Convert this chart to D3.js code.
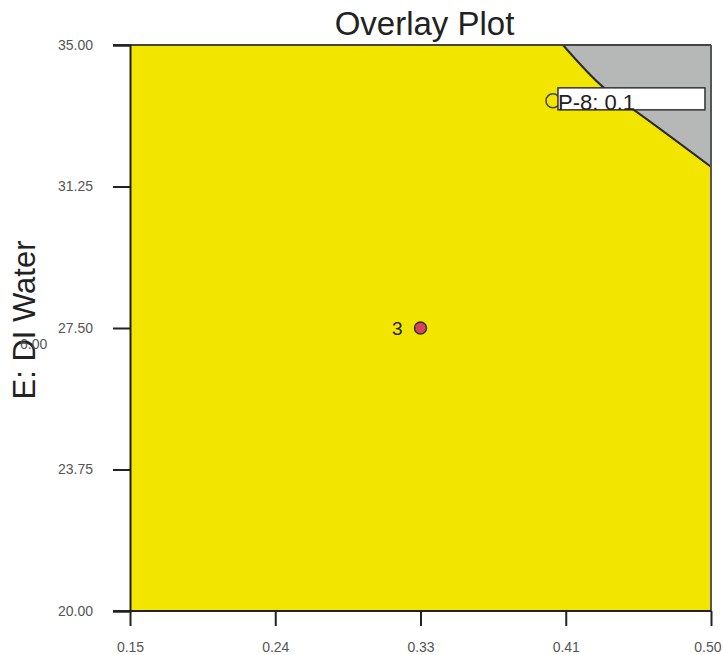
<!DOCTYPE html>
<html>
<head>
<meta charset="utf-8">
<script src="https://cdn.jsdelivr.net/npm/d3@7"></script>
<style>
  body { margin: 0; background: #fff; }
  svg { font-family: "Liberation Sans", Arial, sans-serif; }
</style>
</head>
<body>
<div id="chart"></div>
<script>
// axis ticks (labels as printed on the design-space plot)
var xTicks = [0.15, 0.2375, 0.325, 0.4125, 0.50];
var xTickLabels = ["0.15", "0.24", "0.33", "0.41", "0.50"];
var yTicks = [20, 23.75, 27.5, 31.25, 35];
var yTickLabels = ["20.00", "23.75", "27.50", "31.25", "35.00"];

// boundary of the grey (out of spec) region, top right corner
var boundaryX = [0.4108, 0.4349, 0.4452, 0.4554, 0.50];
var boundaryY = [35.0, 33.89, 33.54, 33.22, 31.77];

// design point and flag
var pointX = [0.325], pointY = [27.5], pointLabel = ["3"];
var flagX = [0.4048], flagY = [33.52], flagText = ["P-8: 0.1"];

var margin = {top: 45, right: 12, bottom: 44, left: 130},
    width  = 723 - margin.left - margin.right,
    height = 655 - margin.top - margin.bottom;

var x = d3.scaleLinear().domain([0.15, 0.5]).range([0, width]);
var y = d3.scaleLinear().domain([20, 35]).range([height, 0]);

var svg = d3.select("#chart").append("svg")
    .attr("width", 723)
    .attr("height", 655)
  .append("g")
    .attr("transform", "translate(" + margin.left + "," + margin.top + ")");

// yellow feasible area
svg.append("rect")
    .attr("width", width)
    .attr("height", height)
    .attr("fill", "#f2e500");

// grey region
var grey = boundaryX.map(function(d, i) { return [x(d), y(boundaryY[i])]; });
grey.push([x(0.5), y(35)]);
svg.append("path")
    .attr("d", d3.line()(grey) + "Z")
    .attr("fill", "#b6b8b8");

svg.append("path")
    .attr("d", d3.line().curve(d3.curveMonotoneX)(boundaryX.map(function(d, i) { return [x(d), y(boundaryY[i])]; })))
    .attr("fill", "none")
    .attr("stroke", "#2a2a2a")
    .attr("stroke-width", 2);

// frame
svg.append("line").attr("x1", -17).attr("x2", width).attr("y1", 0).attr("y2", 0)
    .attr("stroke", "#444").attr("stroke-width", 2);
svg.append("line").attr("x1", width).attr("x2", width).attr("y1", 0).attr("y2", height)
    .attr("stroke", "#555").attr("stroke-width", 2);

// axes
var xAxis = svg.append("g")
    .attr("transform", "translate(0," + height + ")")
    .call(d3.axisBottom(x).tickValues(xTicks).tickSize(15).tickPadding(16)
      .tickFormat(function(d, i) { return xTickLabels[i]; }));
var yAxis = svg.append("g")
    .call(d3.axisLeft(y).tickValues(yTicks).tickSize(17).tickPadding(20)
      .tickFormat(function(d, i) { return yTickLabels[i]; }));

[xAxis, yAxis].forEach(function(a) {
  a.select(".domain").attr("stroke", "#222").attr("stroke-width", 2);
  a.selectAll(".tick line").attr("stroke", "#222").attr("stroke-width", 2);
  a.selectAll(".tick text").attr("fill", "#555").style("font-size", "14px");
});
xAxis.select(".domain").attr("d", "M-17,0H" + width);
// last label sits against the right edge
xAxis.selectAll(".tick text").filter(function(d) { return d === 0.5; })
    .attr("text-anchor", "end").attr("x", 10);

// design point
svg.selectAll(".pt")
    .data(pointX)
  .enter().append("circle")
    .attr("cx", function(d) { return x(d); })
    .attr("cy", function(d, i) { return y(pointY[i]); })
    .attr("r", 6)
    .attr("fill", "#d8445a")
    .attr("stroke", "#333")
    .attr("stroke-width", 1.5);
svg.selectAll(".ptlabel")
    .data(pointLabel)
  .enter().append("text")
    .attr("x", function(d, i) { return x(pointX[i]) - 18; })
    .attr("y", function(d, i) { return y(pointY[i]) + 7; })
    .attr("text-anchor", "end")
    .style("font-size", "19px")
    .attr("fill", "#222")
    .text(function(d) { return d; });

// flag
var fx = x(flagX[0]), fy = y(flagY[0]);
svg.append("circle")
    .attr("cx", fx).attr("cy", fy).attr("r", 7)
    .attr("fill", "none").attr("stroke", "#444").attr("stroke-width", 1.5);
svg.append("rect")
    .attr("x", fx + 5).attr("y", fy - 13)
    .attr("width", 147).attr("height", 22)
    .attr("fill", "#fff").attr("stroke", "#333").attr("stroke-width", 1.5);
svg.append("text")
    .attr("x", fx + 5).attr("y", fy + 9)
    .style("font-size", "22px")
    .attr("fill", "#222")
    .text(flagText[0]);

// title
svg.append("text")
    .attr("x", width / 2 + 4)
    .attr("y", -10)
    .attr("text-anchor", "middle")
    .style("font-size", "33px")
    .attr("fill", "#222")
    .text("Overlay Plot");

// y axis title, with the stray label that overlaps it
d3.select("svg").append("text")
    .attr("transform", "translate(35,320) rotate(-90)")
    .attr("text-anchor", "middle")
    .style("font-size", "31px")
    .attr("fill", "#222")
    .text("E: DI Water");
d3.select("svg").append("text")
    .attr("x", 20).attr("y", 349)
    .style("font-size", "14px")
    .attr("fill", "#555")
    .text("6.00");
</script>
</body>
</html>
